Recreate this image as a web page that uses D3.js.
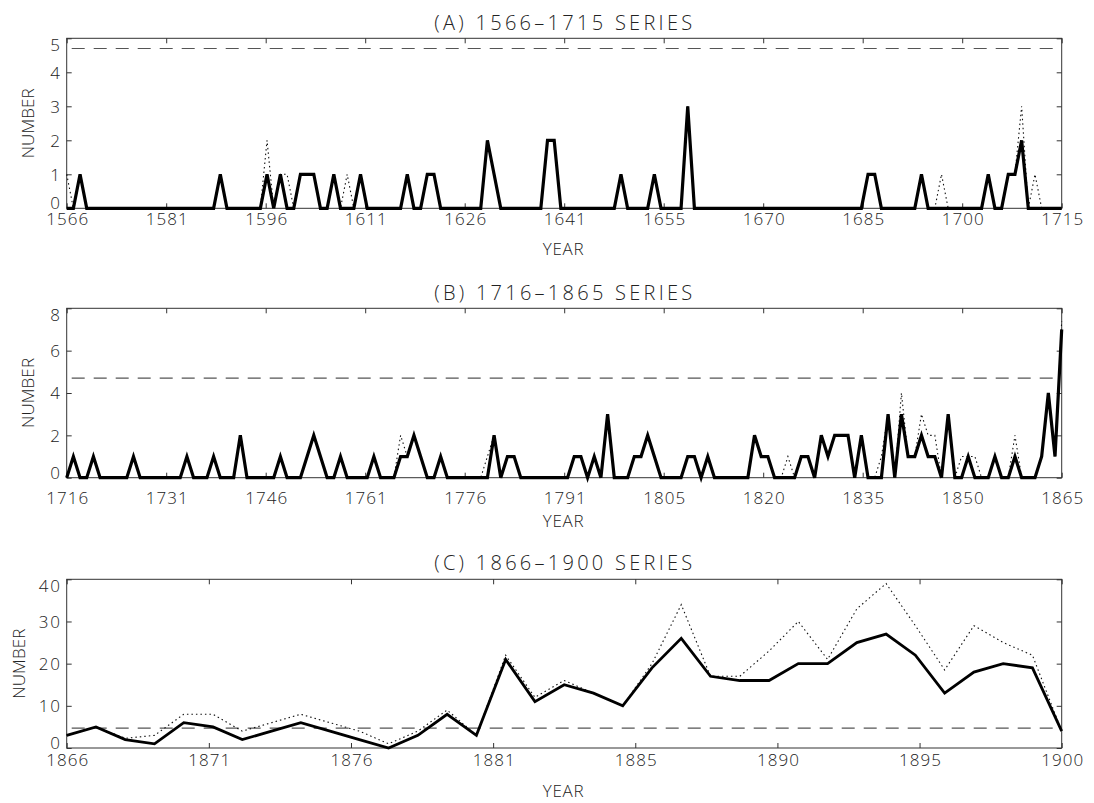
<!DOCTYPE html>
<html>
<head>
<meta charset="utf-8">
<script src="https://cdn.jsdelivr.net/npm/d3@7"></script>
<style>
  body { margin: 0; background: #fff; }
  svg text { font-family: "Open Sans", "DejaVu Sans", sans-serif; font-weight: 300; fill: #222; }
</style>
</head>
<body>
<svg id="chart" width="1094" height="803"></svg>
<script>
// ---------------- DATA ----------------
// Panel A: 1566-1715 (one value per year)
const solidA = [
  0,0,1,0,0,0,0,0,0,0, 0,0,0,0,0,0,0,0,0,0,   // 1566-1585
  0,0,0,1,0,0,0,0,0,0, 1,0,1,0,0,1,1,1,0,0,   // 1586-1605
  1,0,0,0,1,0,0,0,0,0, 0,1,0,0,1,1,0,0,0,0,   // 1606-1625
  0,0,0,2,1,0,0,0,0,0, 0,0,2,2,0,0,0,0,0,0,   // 1626-1645
  0,0,0,1,0,0,0,0,1,0, 0,0,0,3,0,0,0,0,0,0,   // 1646-1665
  0,0,0,0,0,0,0,0,0,0, 0,0,0,0,0,0,0,0,0,0,   // 1666-1685
  1,1,0,0,0,0,0,0,1,0, 0,0,0,0,0,0,0,0,1,0,   // 1686-1705
  0,1,1,2,0,0,0,0,0,0                         // 1706-1715
];
const dottedA = [
  1,0,1,0,0,0,0,0,0,0, 0,0,0,0,0,0,0,0,0,0,
  0,0,0,1,0,0,0,0,0,0, 2,0,1,1,0,1,1,1,0,0,
  1,0,1,0,1,0,0,0,0,0, 0,1,0,0,1,1,0,0,0,0,
  0,0,0,2,1,0,0,0,0,0, 0,0,2,2,0,0,0,0,0,0,
  0,0,0,1,0,0,0,0,1,0, 0,0,0,3,0,0,0,0,0,0,
  0,0,0,0,0,0,0,0,0,0, 0,0,0,0,0,0,0,0,0,0,
  1,1,0,0,0,0,0,0,1,0, 0,1,0,0,0,0,0,0,1,0,
  0,1,1,3,0,1,0,0,0,0
];
// Panel B: 1716-1865
const solidB = [
  0,1,0,0,1,0,0,0,0,0, 1,0,0,0,0,0,0,0,1,0,   // 1716-1735
  0,0,1,0,0,0,2,0,0,0, 0,0,1,0,0,0,1,2,1,0,   // 1736-1755
  0,1,0,0,0,0,1,0,0,0, 1,1,2,1,0,0,1,0,0,0,   // 1756-1775
  0,0,0,0,2,0,1,1,0,0, 0,0,0,0,0,0,1,1,0,1,   // 1776-1795
  0,3,0,0,0,1,1,2,1,0, 0,0,0,1,1,0,1,0,0,0,   // 1796-1815
  0,0,0,2,1,1,0,0,0,0, 1,1,0,2,1,2,2,2,0,2,   // 1816-1835
  0,0,0,3,0,3,1,1,2,1, 1,0,3,0,0,1,0,0,0,1,   // 1836-1855
  0,0,1,0,0,0,1,4,1,7                         // 1856-1865
];
const dottedB = [
  0,1,0,0,1,0,0,0,0,0, 1,0,0,0,0,0,0,0,1,0,
  0,0,1,0,0,0,2,0,0,0, 0,0,1,0,0,0,1,2,1,0,
  0,1,0,0,0,0,1,0,0,0, 2,1,2,1,0,0,1,0,0,0,
  0,0,0,1,2,0,1,1,0,0, 0,0,0,0,0,0,1,1,0,1,
  0,3,0,0,0,1,1,2,1,0, 0,0,0,1,1,0,1,0,0,0,
  0,0,0,2,1,1,0,0,1,0, 1,1,0,2,1,2,2,2,0,2,
  0,0,1,3,0,4,1,1,3,2, 2,0,3,0,1,1,1,0,0,1,
  0,0,2,0,0,0,1,4,1,7.4
];
// Panel C: 1866-1900
const solidC  = [3,5,2,1,6,5,2,4,6,4,2,0,3,8,3,21,11,15,13,10,19,26,17,16,16,20,20,25,27,22,13,18,20,19,4];
const dottedC = [3,5,2.3,3,8,8,4,6,8,6,4,1,4,9,3,22,12,16,13,10,20,34,17,17,23,30,21,33,39,29,18.5,29,25,22,4];

const thresholds = [4.7, 4.7, 4.7];

const xTickLabelsA = ["1566","1581","1596","1611","1626","1641","1655","1670","1685","1700","1715"];
const xTickLabelsB = ["1716","1731","1746","1761","1776","1791","1805","1820","1835","1850","1865"];
const xTickLabelsC = ["1866","1871","1876","1881","1885","1890","1895","1900"];
const yTicksA = [0,1,2,3,4,5];
const yTicksB = [0,2,4,6,8];
const yTicksC = [0,10,20,30,40];
const titles = ["(A) 1566\u20131715 SERIES", "(B) 1716\u20131865 SERIES", "(C) 1866\u20131900 SERIES"];

// ---------------- LAYOUT ----------------
const L = 66.7, R = 1061.7;
const FONT = '"Open Sans", "DejaVu Sans", sans-serif';
const panels = [
  {title: titles[0], start: 1566, end: 1715, solid: solidA, dotted: dottedA, ymax: 5,  yticks: yTicksA, xlabels: xTickLabelsA,
   top: 38.3, bottom: 208.3, titleY: 30, xlabY: 225, yearY: 255, numX: 34, thr: thresholds[0], sw: 3.2},
  {title: titles[1], start: 1716, end: 1865, solid: solidB, dotted: dottedB, ymax: 8,  yticks: yTicksB, xlabels: xTickLabelsB,
   top: 308.3, bottom: 477.7, titleY: 300, xlabY: 504, yearY: 527, numX: 34, thr: thresholds[1], sw: 3.2},
  {title: titles[2], start: 1866, end: 1900, solid: solidC, dotted: dottedC, ymax: 40, yticks: yTicksC, xlabels: xTickLabelsC,
   top: 579.3, bottom: 748, titleY: 570, xlabY: 766, yearY: 797, numX: 24.5, thr: thresholds[2], sw: 2.8}
];

const svg = d3.select("#chart");
svg.append("rect").attr("width", 1094).attr("height", 803).attr("fill", "#fff");

panels.forEach(p => {
  const g = svg.append("g");
  const x = d3.scaleLinear().domain([p.start, p.end]).range([L, R]);
  const xt = d3.scalePoint().domain(p.xlabels).range([L, R]);
  const y = d3.scaleLinear().domain([0, p.ymax]).range([p.bottom, p.top]);
  const years = d3.range(p.start, p.end + 1);

  // frame
  g.append("rect")
    .attr("x", L).attr("y", p.top)
    .attr("width", R - L).attr("height", p.bottom - p.top)
    .attr("fill", "none").attr("stroke", "#333").attr("stroke-width", 1);

  // bottom axis
  const bx = g.append("g").attr("transform", `translate(0,${p.bottom})`)
    .call(d3.axisBottom(xt).tickSize(-5).tickPadding(0));
  bx.select(".domain").remove();
  bx.selectAll(".tick line").attr("stroke", "#333");
  bx.selectAll(".tick text")
    .attr("y", p.xlabY - p.bottom).attr("dy", null)
    .attr("font-size", 17).attr("fill", "#222")
    .attr("textLength", d => 10.5 * d.length).attr("lengthAdjust", "spacing")
    .style("font-family", FONT);

  // top axis (ticks only)
  const tx = g.append("g").attr("transform", `translate(0,${p.top})`)
    .call(d3.axisTop(xt).tickSize(-5).tickFormat(""));
  tx.select(".domain").remove();
  tx.selectAll(".tick line").attr("stroke", "#333");

  // left axis
  const ly = g.append("g").attr("transform", `translate(${L},0)`)
    .call(d3.axisLeft(y).tickValues(p.yticks).tickFormat(d3.format("d")).tickSize(-5).tickPadding(6.7));
  ly.select(".domain").remove();
  ly.selectAll(".tick line").attr("stroke", "#333");
  const n = p.yticks.length;
  ly.selectAll(".tick text")
    .attr("font-size", 17).attr("fill", "#222")
    .style("font-family", FONT)
    .attr("dy", "0.35em")
    .attr("textLength", d => 10.6 * String(d).length).attr("lengthAdjust", "spacing")
    .attr("y", (d, i) => i === 0 ? -5.5 : (i === n - 1 ? 6.5 : 0));

  // right axis (ticks only)
  const ry = g.append("g").attr("transform", `translate(${R},0)`)
    .call(d3.axisRight(y).tickValues(p.yticks).tickSize(-5).tickFormat(""));
  ry.select(".domain").remove();
  ry.selectAll(".tick line").attr("stroke", "#333");

  // threshold dashed line
  g.append("line")
    .attr("x1", L).attr("x2", R)
    .attr("y1", y(p.thr)).attr("y2", y(p.thr))
    .attr("stroke", "#555").attr("stroke-width", 1.2)
    .attr("stroke-dasharray", "13,9").attr("stroke-dashoffset", 17);

  const line = d3.line().x((d, i) => x(years[i])).y(d => y(d));

  // dotted series
  g.append("path").datum(p.dotted)
    .attr("d", line).attr("fill", "none")
    .attr("stroke", "#111").attr("stroke-width", 1.1)
    .attr("stroke-dasharray", "1.5,3");

  // solid series
  g.append("path").datum(p.solid)
    .attr("d", line).attr("fill", "none")
    .attr("stroke", "#000").attr("stroke-width", p.sw)
    .attr("stroke-linejoin", "miter").attr("stroke-miterlimit", 4);

  // titles
  g.append("text").attr("x", (L + R) / 2 - 1).attr("y", p.titleY)
    .attr("text-anchor", "middle").attr("font-size", 20)
    .attr("textLength", 258).attr("lengthAdjust", "spacing")
    .text(p.title);
  g.append("text").attr("x", (L + R) / 2 - 1).attr("y", p.yearY)
    .attr("text-anchor", "middle").attr("font-size", 17)
    .attr("textLength", 41).attr("lengthAdjust", "spacing")
    .text("YEAR");
  g.append("text")
    .attr("transform", `translate(${p.numX},${(p.top + p.bottom) / 2}) rotate(-90)`)
    .attr("text-anchor", "middle").attr("font-size", 17)
    .attr("textLength", 70).attr("lengthAdjust", "spacing")
    .text("NUMBER");
});
</script>
</body>
</html>
